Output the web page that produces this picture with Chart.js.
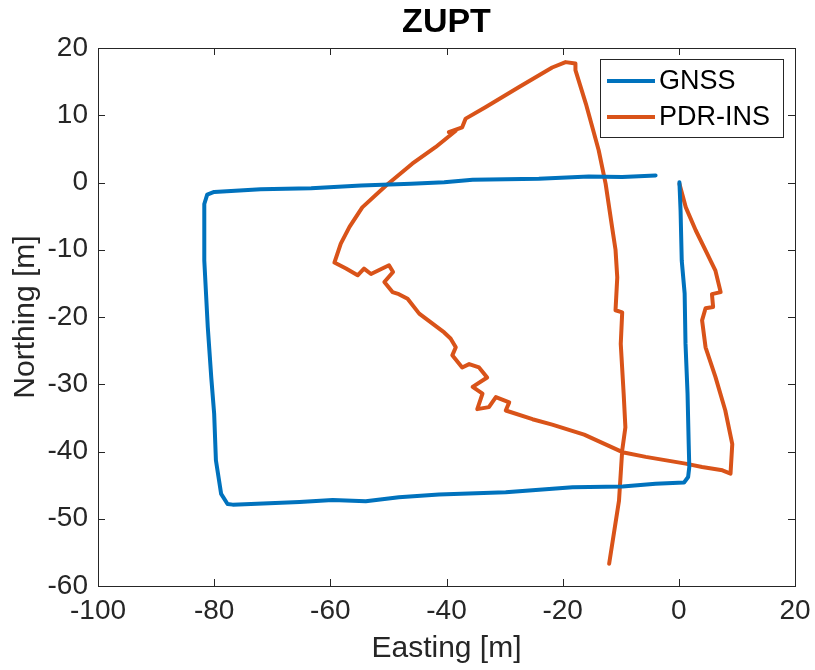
<!DOCTYPE html>
<html>
<head>
<meta charset="utf-8">
<script src="https://cdn.jsdelivr.net/npm/chart.js@4.4.1/dist/chart.umd.min.js"></script>
<style>
  html, body { margin: 0; padding: 0; background: #fff; }
  #wrap { width: 815px; height: 670px; }
</style>
</head>
<body>
<div id="wrap"><canvas id="zuptChart" width="815" height="670"></canvas></div>
<script>
// GNSS track [easting, northing] in m
const gnss = [
    [0.1, 0.05], [0.3, -4.2], [0.5, -11.6], [1.0, -16.5], [1.15, -24], [1.5, -31.4],
    [1.7, -38.9], [1.8, -42.3], [1.6, -43.8], [0.9, -44.6], [-4, -44.8], [-9.7, -45.2],
    [-18.3, -45.3], [-29.8, -46.05], [-41.3, -46.4], [-48.2, -46.8], [-53.9, -47.4],
    [-59.6, -47.2], [-65.3, -47.5], [-76.8, -47.9], [-77.7, -47.8], [-78.8, -46.3],
    [-79.7, -41.3], [-80, -34.4], [-80.5, -29], [-81.1, -21.5], [-81.7, -11.6],
    [-81.7, -3.2], [-81.2, -1.8], [-80, -1.4], [-72, -1.0], [-63.3, -0.84], [-54.7, -0.45],
    [-46.1, -0.2], [-40.4, 0.05], [-35.5, 0.4], [-24.1, 0.55], [-15.5, 0.9], [-9.75, 0.8],
    [-4, 1.05]
];

// PDR-INS track [easting, northing] in m
const pdrIns = [
    [0.1, -0.2], [1.2, -3.7], [2.9, -7.1], [4.6, -10.1], [6.3, -13.1], [7.2, -16.3],
    [5.7, -16.6], [5.9, -18.5], [4.6, -18.7], [4.0, -20.5], [4.6, -24.5], [6.3, -28.9],
    [8.0, -33.9], [9.2, -38.9], [8.9, -43.3], [7.5, -42.8], [4, -42.3], [1.15, -41.8],
    [-5.7, -40.8], [-9.7, -40.1], [-16.3, -37.5], [-21.8, -36.0], [-25.2, -35.2],
    [-29.8, -33.9], [-29.2, -32.7], [-31.5, -31.9], [-32.7, -33.4], [-34.7, -33.7],
    [-33.8, -31.4], [-35.5, -30.4], [-33, -29], [-34.4, -27.5], [-36.1, -27],
    [-37.3, -27.5], [-39, -25.7], [-38.4, -24.5], [-39.3, -23.2], [-40.4, -22.3],
    [-44.7, -19.5], [-46.7, -17.3], [-48.2, -16.6], [-49.3, -16.3], [-50.7, -14.8],
    [-49.2, -13.3], [-49.9, -12.3], [-53, -13.6], [-54.2, -12.8], [-55.3, -13.8],
    [-57.3, -12.8], [-59.3, -11.9], [-58.2, -9.1], [-56.7, -6.6], [-54.5, -3.7],
    [-50.4, -0.45], [-45.9, 2.8], [-41.9, 5.25], [-38.4, 7.7], [-39.6, 7.5],
    [-37.3, 8.2], [-36.7, 9.5], [-33.3, 11.2], [-27.5, 14.2], [-21.8, 17.1],
    [-19.5, 17.9], [-17.8, 17.7], [-17.8, 16.7], [-16, 11.7], [-13.8, 4.8],
    [-12.6, -0.2], [-11.5, -6.6], [-10.9, -10], [-10.6, -14.1], [-10.9, -19],
    [-9.75, -19.3], [-10, -24], [-9.5, -31.4], [-9.2, -36.4], [-9.75, -39.85],
    [-10.3, -47.3], [-12, -56.7]
];

const seriesNames = ['GNSS', 'PDR-INS'];
const xTicks = [-100, -80, -60, -40, -20, 0, 20];
const yTicks = [-60, -50, -40, -30, -20, -10, 0, 10, 20];
const chartTitle = 'ZUPT';

const axisColor = '#262626';
const fontFamily = '"Liberation Sans", Arial, Helvetica, sans-serif';

const toPoints = arr => arr.map(p => ({ x: p[0], y: p[1] }));

// title over the axes, box around the axes, inward ticks on all four sides, boxed legend
const matlabAxes = {
    id: 'matlabAxes',
    afterDraw(chart) {
        const { ctx, chartArea: a, scales } = chart;
        ctx.save();

        ctx.fillStyle = '#000';
        ctx.font = 'bold 34px ' + fontFamily;
        ctx.textAlign = 'center';
        ctx.textBaseline = 'middle';
        ctx.fillText(chartTitle, (a.left + a.right) / 2, a.top - 25);

        ctx.strokeStyle = axisColor;
        ctx.lineWidth = 1;
        ctx.strokeRect(a.left + 0.5, a.top + 0.5, a.right - a.left, a.bottom - a.top);
        const tl = 7;
        ctx.beginPath();
        xTicks.forEach(v => {
            const px = Math.round(scales.x.getPixelForValue(v)) + 0.5;
            ctx.moveTo(px, a.bottom); ctx.lineTo(px, a.bottom - tl);
            ctx.moveTo(px, a.top); ctx.lineTo(px, a.top + tl);
        });
        yTicks.forEach(v => {
            const py = Math.round(scales.y.getPixelForValue(v)) + 0.5;
            ctx.moveTo(a.left, py); ctx.lineTo(a.left + tl, py);
            ctx.moveTo(a.right, py); ctx.lineTo(a.right - tl, py);
        });
        ctx.stroke();

        // legend
        const bw = 183, bh = 78;
        const bx = a.right - 12 - bw, by = a.top + 11;
        ctx.fillStyle = '#fff';
        ctx.fillRect(bx, by, bw, bh);
        ctx.strokeRect(bx + 0.5, by + 0.5, bw, bh);
        ctx.font = '27px ' + fontFamily;
        ctx.textAlign = 'left';
        ctx.textBaseline = 'middle';
        chart.data.datasets.forEach((ds, i) => {
            const cy = by + 22 + i * 36;
            ctx.strokeStyle = ds.borderColor;
            ctx.lineWidth = 4;
            ctx.beginPath();
            ctx.moveTo(bx + 7, cy); ctx.lineTo(bx + 55, cy);
            ctx.stroke();
            ctx.fillStyle = '#000';
            ctx.fillText(ds.label, bx + 59, cy + 1);
        });
        ctx.restore();
    }
};

const config = {
    type: 'scatter',
    data: {
        datasets: [{
            label: seriesNames[0],
            data: toPoints(gnss),
            borderColor: '#0072BD',
            backgroundColor: '#0072BD',
            borderWidth: 4,
            showLine: true,
            pointRadius: 0,
            tension: 0,
            borderJoinStyle: 'round',
            borderCapStyle: 'round'
        }, {
            label: seriesNames[1],
            data: toPoints(pdrIns),
            borderColor: '#D95319',
            backgroundColor: '#D95319',
            borderWidth: 4,
            showLine: true,
            pointRadius: 0,
            tension: 0,
            borderJoinStyle: 'round',
            borderCapStyle: 'round'
        }]
    },
    options: {
        responsive: false,
        animation: false,
        layout: { padding: { top: 48, right: 20 }, autoPadding: false },
        scales: {
            x: {
                type: 'linear',
                min: -100, max: 20,
                afterBuildTicks: s => { s.ticks = xTicks.map(v => ({ value: v })); },
                afterFit: s => { s.height = 84; s.paddingLeft = 0; s.paddingRight = 0; },
                grid: { display: false, drawTicks: false },
                border: { display: false },
                ticks: { color: axisColor, padding: 8, font: { size: 28, family: fontFamily } },
                title: {
                    display: true, text: 'Easting [m]', color: axisColor,
                    padding: { top: 0, bottom: 3 },
                    font: { size: 30, family: fontFamily }
                }
            },
            y: {
                type: 'linear',
                min: -60, max: 20,
                afterBuildTicks: s => { s.ticks = yTicks.map(v => ({ value: v })); },
                afterFit: s => { s.width = 98; s.paddingTop = 0; s.paddingBottom = 0; },
                grid: { display: false, drawTicks: false },
                border: { display: false },
                ticks: { color: axisColor, padding: 10, font: { size: 28, family: fontFamily } },
                title: {
                    display: true, text: 'Northing [m]', color: axisColor,
                    padding: { top: 8, bottom: 0 },
                    font: { size: 30, family: fontFamily }
                }
            }
        },
        plugins: {
            legend: { display: false },
            tooltip: { enabled: false },
            title: { display: false }
        }
    },
    plugins: [matlabAxes]
};

const myChart = new Chart(document.getElementById('zuptChart'), config);
</script>
</body>
</html>
